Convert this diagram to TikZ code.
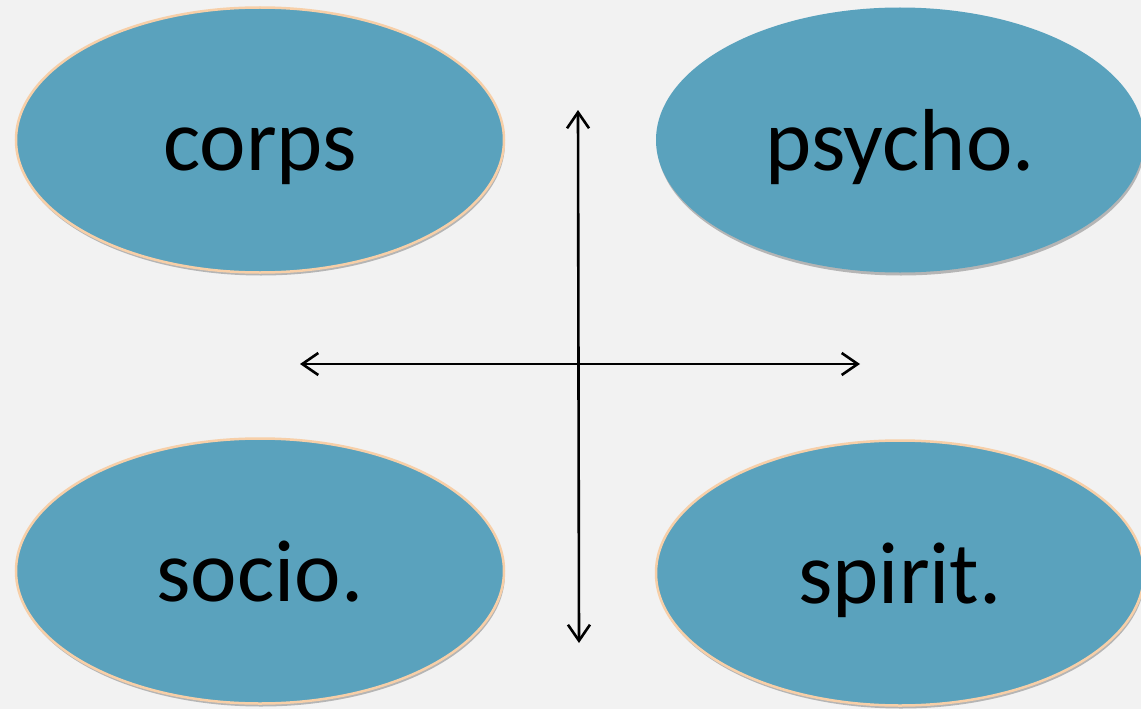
\documentclass[tikz,border=0pt]{standalone}
\usepackage{fontspec}
\setmainfont{Carlito}
\usetikzlibrary{shapes.geometric,arrows.meta,shadows}
\definecolor{bg}{HTML}{F2F2F2}
\definecolor{blob}{HTML}{5AA2BD}
\definecolor{peach}{HTML}{F7CFA8}
\begin{document}
\begin{tikzpicture}[x=1pt,y=-1pt,
  blobnode/.style={ellipse,fill=blob,minimum width=488pt,minimum height=265pt,inner sep=0pt,
     font=\fontsize{88}{88}\selectfont,text=black,text height=60pt,text depth=0pt,
     drop shadow={shadow xshift=1pt,shadow yshift=-3pt,fill=black,opacity=0.25}},
  rimmed/.style={draw=peach,line width=2.5pt},
  axisline/.style={draw=black,line width=2.6pt,
     {Straight Barb[length=16pt,width=22pt,line width=2.6pt]}-{Straight Barb[length=16pt,width=22pt,line width=2.6pt]}}]
\fill[bg] (0,0) rectangle (1141,709);
\useasboundingbox (0,0) rectangle (1141,709);
\node[blobnode,rimmed] (corps) at (260,140) {corps};
\node[blobnode] (psycho) at (900,140) {psycho.};
\node[blobnode,rimmed] (socio) at (260,571) {socio.};
\node[blobnode,rimmed] (spirit) at (900,573) {spirit.};
\coordinate (top) at (578,110);
\coordinate (bot) at (579,643);
\coordinate (lft) at (300,364);
\coordinate (rgt) at (860,364);
\path[axisline] (top) -- (bot);
\path[axisline] (lft) -- (rgt);
\end{tikzpicture}
\end{document}
